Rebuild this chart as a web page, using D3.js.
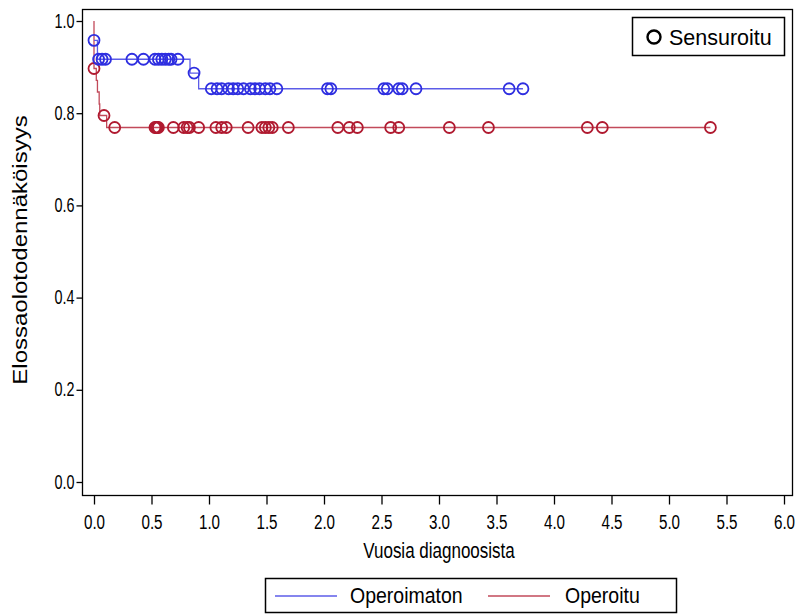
<!DOCTYPE html>
<html>
<head>
<meta charset="utf-8">
<script src="https://cdn.jsdelivr.net/npm/d3@7"></script>
<style>
  body { margin: 0; background: #fff; }
  text { font-family: "Liberation Sans", Arial, sans-serif; }
</style>
</head>
<body>
<div id="chart"></div>
<script>
// step curves: time of each step and survival after it
var blueTimes = [0, 0.03, 0.835, 0.91];
var blueSurv = [0.958, 0.917, 0.887, 0.853];
var blueCensor = [0, 0.04, 0.07, 0.10, 0.33, 0.43, 0.53, 0.56, 0.59, 0.62, 0.65, 0.67, 0.73,
    0.87, 1.02, 1.07, 1.11, 1.17, 1.21, 1.25, 1.30, 1.36, 1.40, 1.44, 1.49, 1.53, 1.59,
    2.03, 2.06, 2.52, 2.55, 2.65, 2.68, 2.80, 3.61, 3.73];

var redTimes = [0, 0, 0.02, 0.03, 0.045, 0.05, 0.11];
var redSurv = [1.0, 0.897, 0.871, 0.846, 0.820, 0.795, 0.769];
var redCensor = [0, 0.087, 0.18, 0.53, 0.54, 0.55, 0.56, 0.69, 0.78, 0.81, 0.83, 0.91, 1.06,
    1.11, 1.15, 1.34, 1.46, 1.49, 1.52, 1.55, 1.69, 2.12, 2.22, 2.29, 2.58, 2.65, 3.09,
    3.43, 4.29, 4.42, 5.36];

var xTicks = [0, 0.5, 1, 1.5, 2, 2.5, 3, 3.5, 4, 4.5, 5, 5.5, 6];
var yTicks = [0, 0.2, 0.4, 0.6, 0.8, 1.0];
var groupNames = ["Operoimaton", "Operoitu"];

var width = 800, height = 614;
var blueLine = "#5c5ce8", blueDot = "#2e2ee0";
var redLine = "#c24a5a", redDot = "#b01a30";

var svg = d3.select("#chart").append("svg")
    .attr("width", width)
    .attr("height", height);

var x = d3.scaleLinear().domain([0, 6]).range([94, 784]);
var y = d3.scaleLinear().domain([0, 1]).range([482, 21]);

// frame
svg.append("rect")
    .attr("x", 82.5).attr("y", 9.5)
    .attr("width", 710).attr("height", 486)
    .attr("fill", "none").attr("stroke", "#000").attr("stroke-width", 1.3);

var yAxis = svg.append("g")
    .attr("transform", "translate(82.5,0)")
    .call(d3.axisLeft(y).tickValues(yTicks).tickFormat(d3.format(".1f")).tickSize(6).tickPadding(3));
var xAxis = svg.append("g")
    .attr("transform", "translate(0,495.5)")
    .call(d3.axisBottom(x).tickValues(xTicks).tickFormat(d3.format(".1f")).tickSize(9).tickPadding(9));
[yAxis, xAxis].forEach(function(a) {
    a.select(".domain").remove();
    a.selectAll("line").attr("stroke", "#000").attr("stroke-width", 1.3);
});
// tick labels look tall and narrow in the original
yAxis.selectAll(".tick text").each(function() {
    var t = d3.select(this);
    t.attr("x", null).attr("dy", null)
        .attr("transform", "translate(-8,6) scale(0.9,1.3)")
        .attr("fill", "#000").style("font-size", "16px");
});
xAxis.selectAll(".tick text").each(function() {
    var t = d3.select(this);
    t.attr("y", null).attr("dy", null)
        .attr("transform", "translate(0,33) scale(0.95,1.3)")
        .attr("fill", "#000").style("font-size", "16px");
});

svg.append("text")
    .attr("transform", "translate(439,558) scale(1,1.25)")
    .attr("text-anchor", "middle")
    .style("font-size", "17px")
    .text("Vuosia diagnoosista");

svg.append("text")
    .attr("transform", "translate(27,250) rotate(-90) scale(1.2,1)")
    .attr("text-anchor", "middle")
    .style("font-size", "20px")
    .text("Elossaolotodennäköisyys");

function survAt(times, surv, t) {
    var s = surv[0];
    for (var i = 0; i < times.length; i++) {
        if (times[i] <= t) s = surv[i];
    }
    return s;
}

var line = d3.line()
    .x(function(d) { return x(d[0]); })
    .y(function(d) { return y(d[1]); })
    .curve(d3.curveStepAfter);

function drawGroup(times, surv, censor, lineColor, dotColor) {
    var pts = times.map(function(t, i) { return [t, surv[i]]; });
    pts.push([d3.max(censor), surv[surv.length - 1]]);
    svg.append("path")
        .attr("d", line(pts))
        .attr("fill", "none")
        .attr("stroke", lineColor)
        .attr("stroke-width", 1.3);
    svg.append("g").selectAll("circle")
        .data(censor)
        .enter().append("circle")
        .attr("cx", function(d) { return x(d); })
        .attr("cy", function(d) { return y(survAt(times, surv, d)); })
        .attr("r", 5.5)
        .attr("fill", "none")
        .attr("stroke", dotColor)
        .attr("stroke-width", 1.8);
}

drawGroup(redTimes, redSurv, redCensor, redLine, redDot);
drawGroup(blueTimes, blueSurv, blueCensor, blueLine, blueDot);

// censored legend
svg.append("rect")
    .attr("x", 632.5).attr("y", 17.5).attr("width", 152).attr("height", 38)
    .attr("fill", "#fff").attr("stroke", "#000").attr("stroke-width", 1.5);
svg.append("circle")
    .attr("cx", 654).attr("cy", 37).attr("r", 6.5)
    .attr("fill", "none").attr("stroke", "#000").attr("stroke-width", 2.4);
svg.append("text")
    .attr("x", 669).attr("y", 45)
    .style("font-size", "21.5px")
    .text("Sensuroitu");

// group legend
svg.append("rect")
    .attr("x", 265.5).attr("y", 578.5).attr("width", 411).attr("height", 34)
    .attr("fill", "#fff").attr("stroke", "#000").attr("stroke-width", 1.5);
var legItems = [
    {name: groupNames[0], color: blueLine, x0: 275, tx: 350},
    {name: groupNames[1], color: redLine, x0: 488, tx: 565}
];
legItems.forEach(function(d) {
    svg.append("line")
        .attr("x1", d.x0).attr("x2", d.x0 + 62)
        .attr("y1", 596).attr("y2", 596)
        .attr("stroke", d.color).attr("stroke-width", 1.5);
    svg.append("text")
        .attr("transform", "translate(" + d.tx + ",603) scale(1,1.15)")
        .style("font-size", "19.5px")
        .text(d.name);
});
</script>
</body>
</html>
